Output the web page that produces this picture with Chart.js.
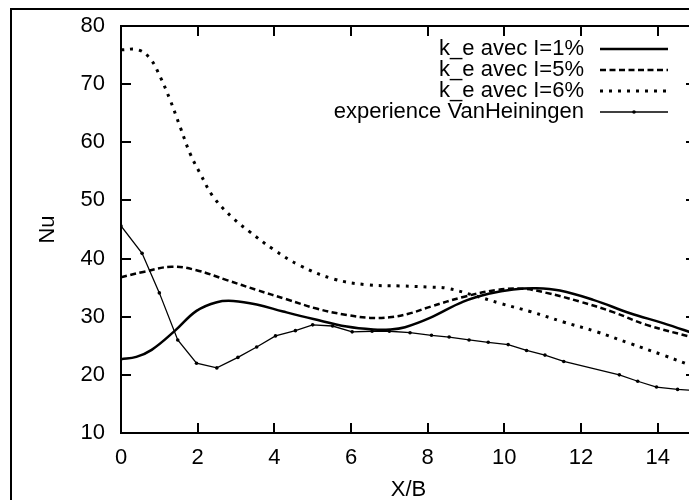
<!DOCTYPE html>
<html>
<head>
<meta charset="utf-8">
<title>Nu vs X/B</title>
<script src="https://cdn.jsdelivr.net/npm/chart.js@4.4.0/dist/chart.umd.min.js"></script>
<style>
    html, body { margin: 0; padding: 0; background: #fff; overflow: hidden; width: 689px; height: 500px; }
    #frame { position: absolute; left: 10px; top: 8px; width: 720px; height: 520px; border: 2px solid #000; }
    #frame canvas { display: block; }
</style>
</head>
<body>
<div id="frame"><canvas id="nuChart" width="720" height="520"></canvas></div>
<script>
// ==========================================
// DATA
// ==========================================

const xTicks = [0, 2, 4, 6, 8, 10, 12, 14];
const yTicks = [10, 20, 30, 40, 50, 60, 70, 80];

const seriesLabels = ['k_e avec I=1%', 'k_e avec I=5%', 'k_e avec I=6%', 'experience VanHeiningen'];

// k_e avec I=1%
const x1 = [0, 0.4, 0.8, 1.41, 1.97, 2.5, 2.93, 3.54, 4.23, 5.02, 5.89, 6.58, 7.02, 7.41, 8.06, 8.93, 9.62, 10.23, 10.84, 11.45, 12.32, 13.28, 14.14, 15];
const nu1 = [22.7, 23.1, 24.3, 27.6, 31.0, 32.5, 32.7, 32.1, 30.9, 29.6, 28.3, 27.8, 27.8, 28.2, 29.8, 32.6, 34.0, 34.7, 34.9, 34.5, 32.9, 30.6, 28.9, 27.0];

// k_e avec I=5%
const x5 = [0, 0.58, 1.32, 1.97, 2.76, 3.54, 4.32, 5.1, 5.89, 6.5, 7.0, 7.5, 8.06, 8.93, 9.8, 10.49, 11.1, 11.97, 12.84, 13.71, 15];
const nu5 = [36.8, 37.7, 38.6, 38.0, 36.3, 34.6, 33.0, 31.4, 30.3, 29.8, 29.9, 30.5, 31.7, 33.4, 34.6, 34.8, 34.1, 32.6, 30.8, 28.6, 26.3];

// k_e avec I=6%
const x6 = [0, 0.45, 0.76, 1.02, 1.28, 1.54, 1.8, 2.06, 2.41, 2.93, 3.36, 3.97, 4.67, 5.54, 6.41, 7.28, 8.06, 8.5, 9.19, 9.89, 10.67, 11.54, 12.41, 13.28, 14.14, 15];
const nu6 = [75.9, 75.9, 74.4, 71.3, 67.3, 62.7, 58.1, 54.7, 50.6, 46.9, 44.6, 41.6, 38.8, 36.5, 35.5, 35.3, 35.1, 34.9, 33.7, 32.3, 30.9, 29.1, 27.4, 25.4, 23.4, 21.3];

// experience VanHeiningen
const xExp = [0, 0.55, 1.0, 1.48, 1.97, 2.5, 3.05, 3.54, 4.03, 4.55, 5.0, 5.52, 6.03, 6.55, 7.0, 7.54, 8.1, 8.56, 9.08, 9.58, 10.1, 10.58, 11.06, 11.55, 13.0, 13.48, 13.97, 14.52, 15];
const nuExp = [45.6, 40.9, 34.1, 26.0, 22.0, 21.2, 23.0, 24.8, 26.7, 27.6, 28.6, 28.4, 27.4, 27.5, 27.5, 27.25, 26.8, 26.5, 26.0, 25.6, 25.2, 24.2, 23.4, 22.3, 20.0, 18.9, 17.9, 17.5, 17.3];

// ==========================================
// HELPERS
// ==========================================

const FONT = '"Liberation Sans", Arial, sans-serif';
const FONT_SIZE = 22;
const TICK_LEN = 10;

function toPoints(xs, ys) {
    return xs.map((x, i) => ({ x: x, y: ys[i] }));
}

// Box + inward ticks on all four sides, the gnuplot way
const gnuplotBox = {
    id: 'gnuplotBox',
    afterDatasetsDraw(chart) {
        const { ctx, chartArea: a, scales } = chart;
        ctx.save();
        ctx.strokeStyle = '#000';
        ctx.lineWidth = 2;
        ctx.setLineDash([]);
        ctx.strokeRect(a.left, a.top, a.right - a.left, a.bottom - a.top);
        ctx.beginPath();
        xTicks.forEach(v => {
            const px = Math.round(scales.x.getPixelForValue(v));
            ctx.moveTo(px, a.bottom); ctx.lineTo(px, a.bottom - TICK_LEN);
            ctx.moveTo(px, a.top); ctx.lineTo(px, a.top + TICK_LEN);
        });
        yTicks.forEach(v => {
            const py = Math.round(scales.y.getPixelForValue(v));
            ctx.moveTo(a.left, py); ctx.lineTo(a.left + TICK_LEN, py);
            ctx.moveTo(a.right, py); ctx.lineTo(a.right - TICK_LEN, py);
        });
        ctx.stroke();
        ctx.restore();
    }
};

// Key in the top right corner: label right-aligned, sample on its right
const keyPlugin = {
    id: 'key',
    afterDraw(chart) {
        const { ctx, chartArea: a } = chart;
        ctx.save();
        ctx.font = `${FONT_SIZE}px ${FONT}`;
        ctx.fillStyle = '#000';
        ctx.strokeStyle = '#000';
        ctx.textAlign = 'right';
        ctx.textBaseline = 'middle';
        chart.data.datasets.forEach((ds, i) => {
            const yy = a.top + 23 + i * 21;
            ctx.fillText(ds.label, a.right - 112, yy);
            ctx.lineWidth = ds.borderWidth;
            ctx.setLineDash(ds.borderDash || []);
            ctx.beginPath();
            ctx.moveTo(a.right - 96, yy);
            ctx.lineTo(a.right - 28, yy);
            ctx.stroke();
            if (ds.pointRadius > 0) {
                ctx.setLineDash([]);
                ctx.beginPath();
                ctx.arc(a.right - 62, yy, ds.pointRadius, 0, Math.PI * 2);
                ctx.fill();
            }
        });
        ctx.restore();
    }
};

// ==========================================
// CHART
// ==========================================

Chart.defaults.font.family = FONT;
Chart.defaults.font.size = FONT_SIZE;
Chart.defaults.color = '#000';

const ctx = document.getElementById('nuChart');

new Chart(ctx, {
    type: 'line',
    data: {
        datasets: [
            {
                label: seriesLabels[0],
                data: toPoints(x1, nu1),
                borderColor: '#000',
                borderWidth: 2.5,
                pointRadius: 0,
                tension: 0.4
            },
            {
                label: seriesLabels[1],
                data: toPoints(x5, nu5),
                borderColor: '#000',
                borderWidth: 2.5,
                borderDash: [6, 3.5],
                pointRadius: 0,
                tension: 0.4
            },
            {
                label: seriesLabels[2],
                data: toPoints(x6, nu6),
                borderColor: '#000',
                borderWidth: 3,
                borderDash: [3, 6],
                pointRadius: 0,
                tension: 0.4
            },
            {
                label: seriesLabels[3],
                data: toPoints(xExp, nuExp),
                borderColor: '#000',
                backgroundColor: '#000',
                borderWidth: 1.3,
                pointRadius: 1.8,
                pointBorderWidth: 0,
                tension: 0
            }
        ]
    },
    options: {
        responsive: false,
        animation: false,
        events: [],
        layout: { padding: { left: 0, top: 16, right: 36, bottom: 0 } },
        plugins: {
            legend: { display: false },
            tooltip: { enabled: false }
        },
        scales: {
            x: {
                type: 'linear',
                min: 0,
                max: 15,
                afterBuildTicks: scale => { scale.ticks = xTicks.map(v => ({ value: v })); },
                afterFit: scale => { scale.height = 97; },
                grid: { display: false, drawTicks: false },
                border: { display: false },
                ticks: { padding: 12, maxRotation: 0, autoSkip: false },
                title: { display: true, text: 'X/B', padding: { top: 0, bottom: 27 } }
            },
            y: {
                type: 'linear',
                min: 10,
                max: 80,
                afterBuildTicks: scale => { scale.ticks = yTicks.map(v => ({ value: v })); },
                afterFit: scale => {
                    scale.width = 109;
                    // label overhang should not push the plot box down
                    scale.paddingTop = 0;
                    scale.paddingBottom = 0;
                },
                grid: { display: false, drawTicks: false },
                border: { display: false },
                ticks: { padding: 16 },
                title: { display: true, text: 'Nu', padding: { top: 23, bottom: 0 } }
            }
        }
    },
    plugins: [gnuplotBox, keyPlugin]
});
</script>
</body>
</html>
